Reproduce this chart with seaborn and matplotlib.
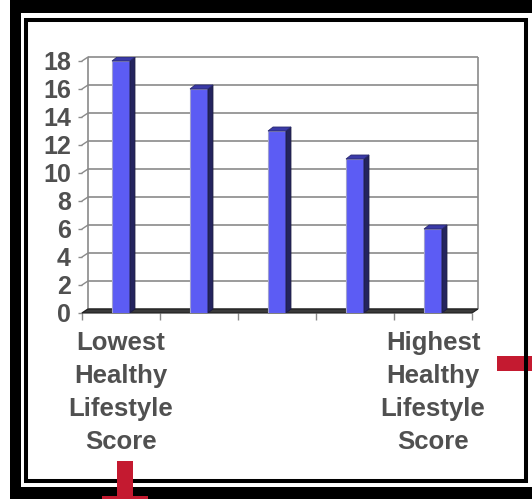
import numpy as np
import pandas as pd
import matplotlib
matplotlib.use("Agg")
import matplotlib.pyplot as plt
from matplotlib.patches import Rectangle, Polygon
import seaborn as sns

# ---- data ----
categories = ["Lowest", "Q2", "Q3", "Q4", "Highest"]
values = [18, 16, 13, 11, 6]
x_tick_labels = ["Lowest\nHealthy\nLifestyle\nScore", "", "", "",
                 "Highest\nHealthy\nLifestyle\nScore"]
y_ticks = [0, 2, 4, 6, 8, 10, 12, 14, 16, 18]

W, H = 532, 499
sns.set_theme(style="white")
plt.rcParams['font.family'] = ['Liberation Sans', 'DejaVu Sans']

TEXT = "#505050"
GRID = "#8a8a8a"

fig = plt.figure(figsize=(W / 100, H / 100), dpi=100)
fig.patch.set_facecolor("white")


def fr(x0, y0, x1, y1):
    return (x0 / W, 1 - y1 / H, (x1 - x0) / W, (y1 - y0) / H)


ax = fig.add_axes(fr(82, 57, 478, 313))
ax.set_facecolor("none")
df = pd.DataFrame({"cat": categories, "val": values})
sns.barplot(data=df, x="cat", y="val", color="#5c5cf4", width=0.23,
            saturation=1, edgecolor="#a0a0d0", linewidth=0.8, ax=ax, zorder=3)

xmin = -0.5
xmax = -0.5 + 396 / 78
ymax = 256 / 14
ax.set_xlim(xmin, xmax)
ax.set_ylim(0, ymax)
dx, dy = 6 / 78, 4 / 14
bdx, bdy = 5 / 78, 4 / 14

# 3D sides and tops of bars
bars = list(ax.patches)
for p in bars:
    x0 = p.get_x()
    x1 = x0 + p.get_width()
    h = p.get_height()
    ax.add_patch(Polygon([(x1, 0), (x1 + bdx, bdy), (x1 + bdx, h + bdy), (x1, h)],
                         closed=True, facecolor="#24245e", edgecolor="#1a1a40",
                         lw=0.6, zorder=3))
    ax.add_patch(Polygon([(x0, h), (x1, h), (x1 + bdx, h + bdy), (x0 + bdx, h + bdy)],
                         closed=True, facecolor="#3a3aa8", edgecolor="#2a2a70",
                         lw=0.6, zorder=3))

# back wall gridlines
ax.hlines([v + dy for v in y_ticks], xmin + dx, xmax, colors=GRID, lw=1.2,
          zorder=1, clip_on=False)
ax.vlines([xmin + dx, xmax], dy, y_ticks[-1] + dy, colors=GRID, lw=1.2,
          zorder=1, clip_on=False)
for v in y_ticks:
    ax.plot([xmin, xmin + dx], [v, v + dy], color=GRID, lw=1.0, zorder=1,
            clip_on=False)
# floor
ax.add_patch(Polygon([(xmin, 0), (xmax - dx, 0), (xmax, dy), (xmin + dx, dy)],
                     closed=True, facecolor="#3a3a3a", edgecolor="#1e1e1e",
                     lw=0.8, zorder=2, clip_on=False))

for s in ax.spines.values():
    s.set_visible(False)
ax.set_xlabel("")
ax.set_ylabel("")

ax.set_yticks(y_ticks)
ax.set_yticklabels([str(v) for v in y_ticks], fontsize=18,
                   fontweight="bold", color=TEXT)
ax.tick_params(axis="y", left=True, length=3, width=1, color=GRID, pad=5,
               direction="out")

ax.set_xticks(range(len(categories)))
ax.set_xticklabels(x_tick_labels, fontsize=18.5, fontweight="bold",
                   color=TEXT, linespacing=1.47)
ax.set_xticks(np.arange(-0.5, len(categories), 1.0), minor=True)
ax.tick_params(axis="x", which="major", bottom=True, length=0, pad=13)
ax.tick_params(axis="x", which="minor", bottom=True, length=5, width=1,
               color=GRID, direction="out")

# ---- frame decorations ----
RED = "#c41a30"
r = fr(497, 356, 532, 371)
fig.add_artist(Rectangle(r[:2], *r[2:], transform=fig.transFigure,
                         facecolor=RED, lw=0, zorder=5))
for box in [(10, 0, 532, 13), (10, 0, 21, 499), (10, 487, 532, 499)]:
    r = fr(*box)
    fig.add_artist(Rectangle(r[:2], *r[2:], transform=fig.transFigure,
                             facecolor="black", lw=0, zorder=6))
r = fr(26, 20, 526, 481)
fig.add_artist(Rectangle(r[:2], *r[2:], transform=fig.transFigure,
                         facecolor="none", edgecolor="black", lw=2.9, zorder=6))
for box in [(117, 461, 133, 499), (102, 496, 148, 499)]:
    r = fr(*box)
    fig.add_artist(Rectangle(r[:2], *r[2:], transform=fig.transFigure,
                             facecolor=RED, lw=0, zorder=7))

fig.savefig("out.png", dpi=100)
